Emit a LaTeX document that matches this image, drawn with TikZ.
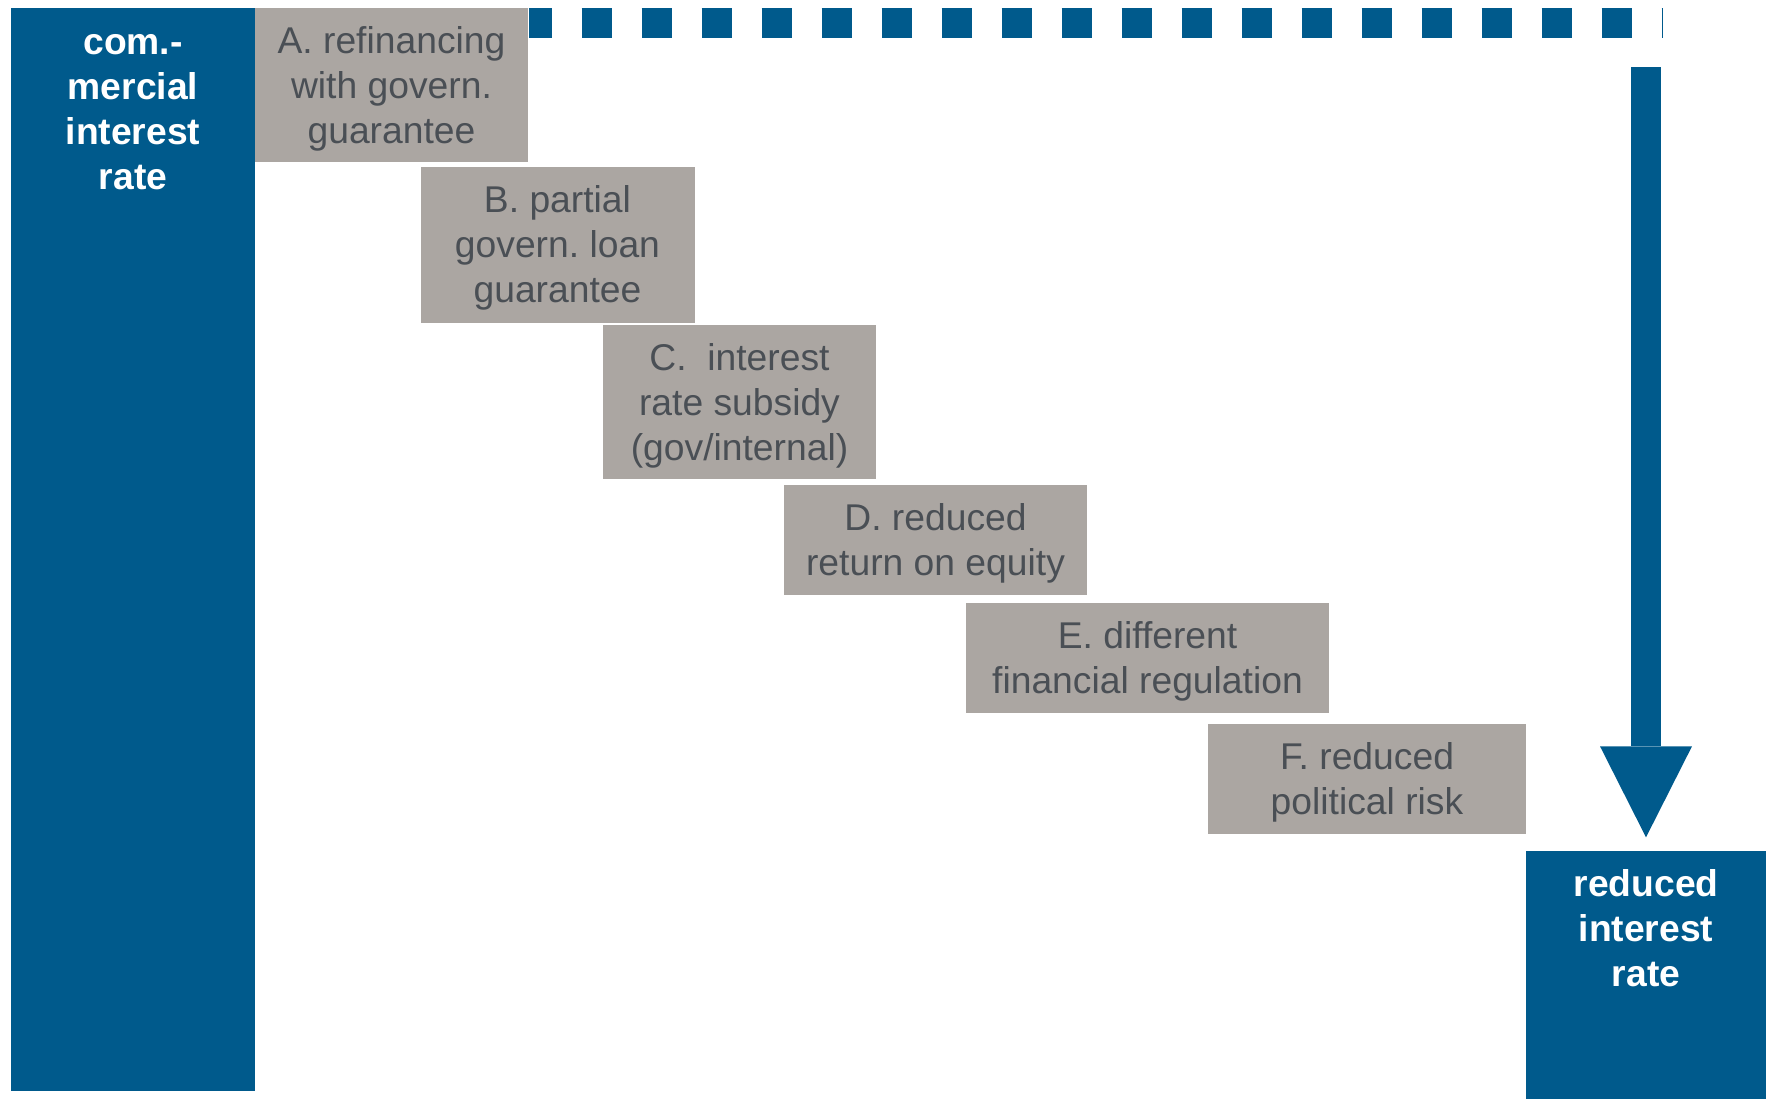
\documentclass[tikz,border=0pt]{standalone}
\usepackage{fontspec}
\setmainfont{Liberation Sans}
\frenchspacing
\usetikzlibrary{arrows.meta, positioning}
\definecolor{rateblue}{RGB}{0,90,140}
\definecolor{stepgray}{RGB}{171,166,162}
\definecolor{stepfont}{RGB}{74,79,85}
\newcommand{\firstline}{\rule{0pt}{9.6pt}}
\tikzset{measure/.style={fill=stepgray,text=stepfont,inner sep=0pt,align=center,font=\fontsize{10.6}{12.8}\selectfont},
         rate/.style={fill=rateblue,inner sep=0pt},
         ratelabel/.style={text=white,align=center,font=\fontsize{10.6}{12.8}\selectfont\bfseries}}

\begin{document}
\begin{tikzpicture}
        \useasboundingbox (0,0) rectangle (17.72,-10.99);
        \node[rate, minimum width=2.44cm, minimum height=10.83cm](com)at(1.33,-5.495){};
        \node[ratelabel](comtext)at(1.33,-1.125){com.-\\mercial\\interest\\rate};

        \node[measure, minimum width=2.73cm, minimum height=1.54cm](a)at(3.915,-0.85){\firstline A. refinancing\\with govern.\\guarantee};
        \node[measure, minimum width=2.74cm, minimum height=1.56cm](b)at(5.575,-2.445){\firstline B. partial\\govern. loan\\guarantee};
        \node[measure, minimum width=2.73cm, minimum height=1.54cm](c)at(7.395,-4.02){\firstline C.~ interest\\rate subsidy\\(gov/internal)};
        \node[measure, minimum width=3.03cm, minimum height=1.10cm](d)at(9.355,-5.40){\firstline D. reduced\\return on equity};
        \node[measure, minimum width=3.63cm, minimum height=1.10cm](e)at(11.475,-6.58){\firstline E. different\\financial regulation};
        \node[measure, minimum width=3.18cm, minimum height=1.10cm](f)at(13.67,-7.79){\firstline F. reduced\\political risk};

        \node[rate, minimum width=2.40cm, minimum height=2.48cm](goal)at(16.46,-9.75){};
        \node[ratelabel](goaltext)at(16.46,-9.28){reduced\\interest\\rate};

        \coordinate(top)at(16.62,-0.23);
        \coordinate(drop)at(16.46,-0.67);
        \draw[rateblue, line width=0.3cm, dash pattern=on 0.3cm off 0.3cm, dash phase=0.07cm](a.east |- top)--(top);
        \draw[rateblue, line width=0.3cm, -{Triangle[length=0.91cm, width=0.92cm, line width=0pt]}, shorten >=0.13cm](drop)--(goal);
    \end{tikzpicture}
\end{document}
